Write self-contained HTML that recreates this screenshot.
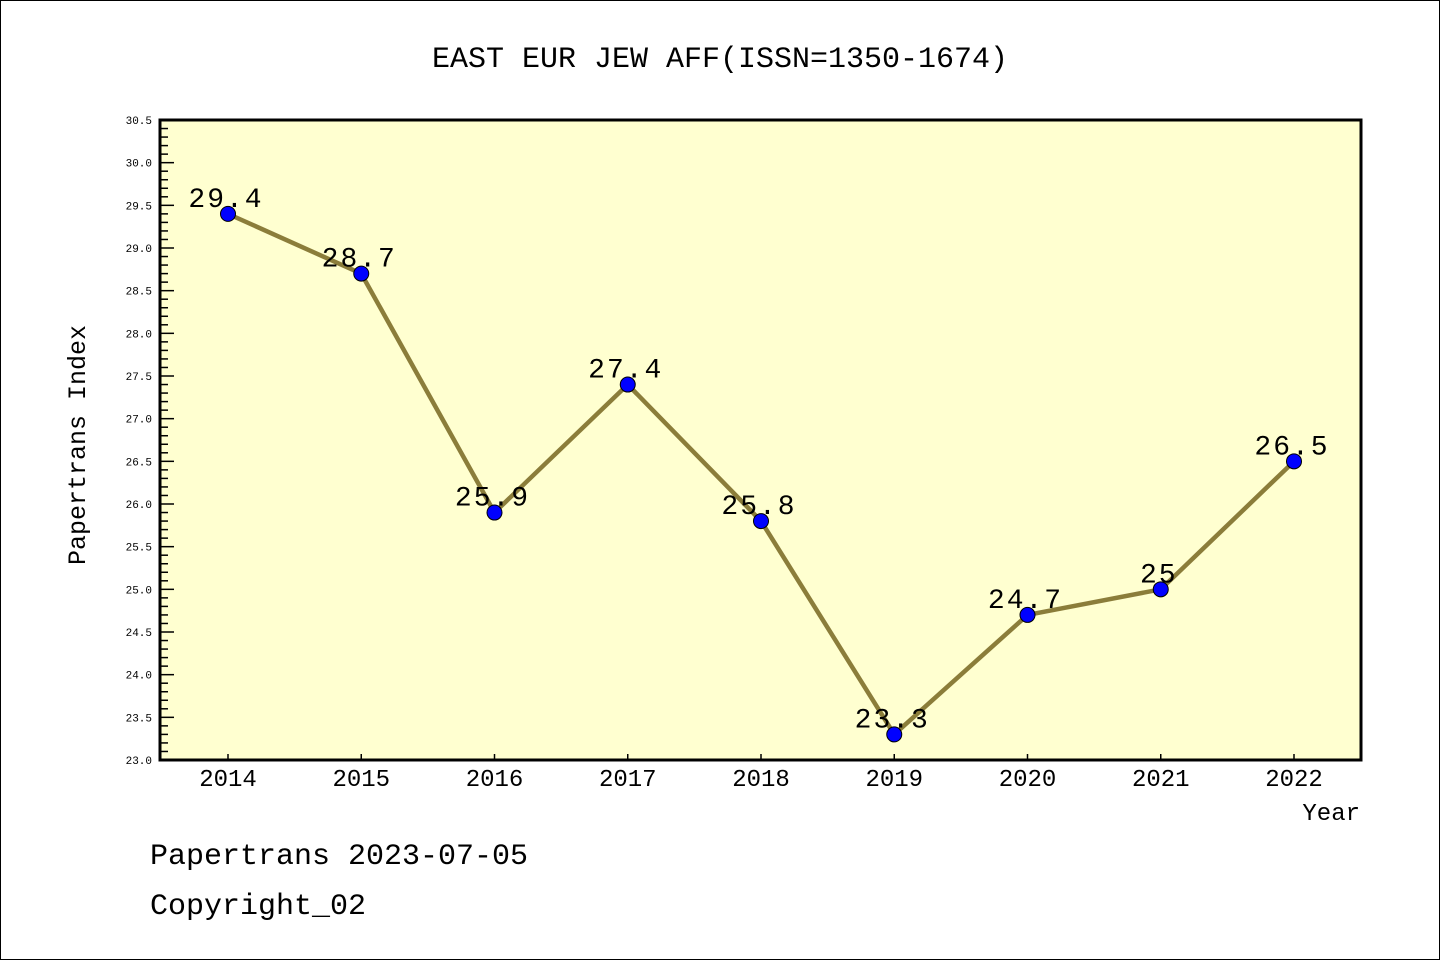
<!DOCTYPE html>
<html><head><meta charset="utf-8"><style>
body{margin:0;background:#fff;}
svg{display:block;font-family:"Liberation Mono","DejaVu Sans Mono",monospace;}
</style></head><body>
<svg id="chart" width="1440" height="960" viewBox="0 0 1440 960" xmlns="http://www.w3.org/2000/svg">
<rect x="0.5" y="0.5" width="1439" height="959" fill="#fff" stroke="#000"/>
<text x="720" y="67" text-anchor="middle" font-size="30">EAST EUR JEW AFF(ISSN=1350-1674)</text>
<rect x="160" y="120" width="1201" height="640" fill="#ffffd0" stroke="#000" stroke-width="3"/>
<g id="yticks"></g><g id="xticks"></g><g id="series"></g>
<text transform="translate(85,445) rotate(-90)" text-anchor="middle" font-size="25">Papertrans Index</text>
<text x="1360" y="820" text-anchor="end" font-size="24">Year</text>
<text x="150" y="864" font-size="30">Papertrans 2023-07-05</text>
<text x="150" y="914" font-size="30">Copyright_02</text>
</svg>
<script>
const years = [2014,2015,2016,2017,2018,2019,2020,2021,2022];
const values = [29.4,28.7,25.9,27.4,25.8,23.3,24.7,25,26.5];
const yTicks = [23.0,23.5,24.0,24.5,25.0,25.5,26.0,26.5,27.0,27.5,28.0,28.5,29.0,29.5,30.0,30.5];
{
const NS="http://www.w3.org/2000/svg";
const yMin=23.0,yMax=30.5,plotTop=120,plotBot=760;
const xFirst=228,xStep=133.25;
function ys(v){return plotBot-(v-yMin)/(yMax-yMin)*(plotBot-plotTop);}
function xs(i){return xFirst+i*xStep;}
function mk(tag,attrs,parent){const e=document.createElementNS(NS,tag);for(const k in attrs)e.setAttribute(k,attrs[k]);parent.appendChild(e);return e;}
const yg=document.getElementById('yticks');
const nMinor=Math.round((yMax-yMin)/0.1);
for(let k=0;k<=nMinor;k++){
  const v=yMin+k*0.1;const y=ys(v);const major=k%5===0;
  const t=mk('line',{x1:160,x2:160+(major?14:8),y1:y,y2:y,stroke:'#000','stroke-width':1.5},yg);
  
  
}
yTicks.forEach(v=>{
  const t=mk('text',{x:152,y:ys(v)+4,'text-anchor':'end','font-size':11},yg);
  t.textContent=v.toFixed(1);
  
  
});
const xg=document.getElementById('xticks');
years.forEach((yr,i)=>{
  const l=mk('line',{x1:xs(i),x2:xs(i),y1:plotBot,y2:plotBot-6,stroke:'#000','stroke-width':1.5},xg);
  
  
  const t=mk('text',{x:xs(i),y:786,'text-anchor':'middle','font-size':24},xg);
  t.textContent=yr;
  
  
});
const sg=document.getElementById('series');
const pl=mk('polyline',{points:values.map((v,i)=>xs(i)+','+ys(v)).join(' '),fill:'none',stroke:'#8b7d3a','stroke-width':4.5},sg);


values.forEach((v,i)=>{
  const t=mk('text',{x:xs(i)-2,y:ys(v)-7,'text-anchor':'middle','font-size':28,'letter-spacing':'2'},sg);
  t.textContent=String(v);
  
  
});
values.forEach((v,i)=>{
  const c=mk('circle',{cx:xs(i),cy:ys(v),r:7.5,fill:'#0000ff',stroke:'#000','stroke-width':1},sg);
  
  
});
}
</script>
</body></html>
